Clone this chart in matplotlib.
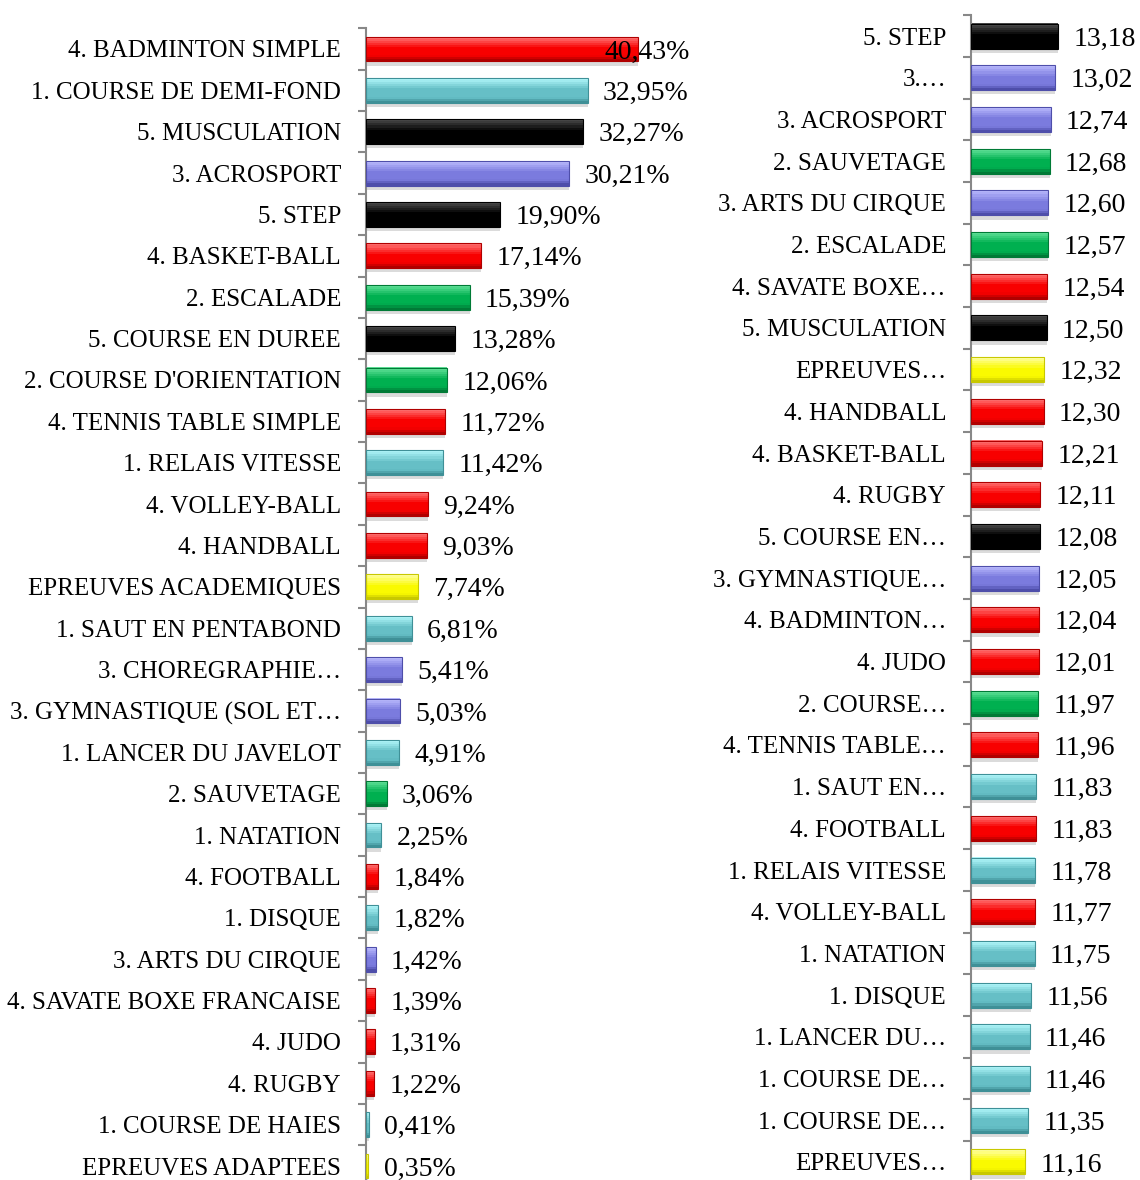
import matplotlib
matplotlib.use("Agg")

import numpy as np
import matplotlib.pyplot as plt
from matplotlib.colors import to_rgb

plt.rcParams['font.family'] = ['Liberation Serif', 'DejaVu Serif']

# panneau de gauche : part des activites (%)
noms_gauche = ["4. BADMINTON SIMPLE", "1. COURSE DE DEMI-FOND", "5. MUSCULATION", "3. ACROSPORT",
               "5. STEP", "4. BASKET-BALL", "2. ESCALADE", "5. COURSE EN DUREE",
               "2. COURSE D'ORIENTATION", "4. TENNIS TABLE SIMPLE", "1. RELAIS VITESSE",
               "4. VOLLEY-BALL", "4. HANDBALL", "EPREUVES ACADEMIQUES", "1. SAUT EN PENTABOND",
               "3. CHOREGRAPHIE…", "3. GYMNASTIQUE (SOL ET…", "1. LANCER DU JAVELOT",
               "2. SAUVETAGE", "1. NATATION", "4. FOOTBALL", "1. DISQUE", "3. ARTS DU CIRQUE",
               "4. SAVATE BOXE FRANCAISE", "4. JUDO", "4. RUGBY", "1. COURSE DE HAIES",
               "EPREUVES ADAPTEES"]
valeurs_gauche = [40.43, 32.95, 32.27, 30.21, 19.90, 17.14, 15.39, 13.28, 12.06, 11.72, 11.42,
                  9.24, 9.03, 7.74, 6.81, 5.41, 5.03, 4.91, 3.06, 2.25, 1.84, 1.82, 1.42,
                  1.39, 1.31, 1.22, 0.41, 0.35]

# panneau de droite : moyennes des notes
noms_droite = ["5. STEP", "3.…", "3. ACROSPORT", "2. SAUVETAGE", "3. ARTS DU CIRQUE",
               "2. ESCALADE", "4. SAVATE BOXE…", "5. MUSCULATION", "EPREUVES…", "4. HANDBALL",
               "4. BASKET-BALL", "4. RUGBY", "5. COURSE EN…", "3. GYMNASTIQUE…",
               "4. BADMINTON…", "4. JUDO", "2. COURSE…", "4. TENNIS TABLE…", "1. SAUT EN…",
               "4. FOOTBALL", "1. RELAIS VITESSE", "4. VOLLEY-BALL", "1. NATATION",
               "1. DISQUE", "1. LANCER DU…", "1. COURSE DE…", "1. COURSE DE…", "EPREUVES…"]
valeurs_droite = [13.18, 13.02, 12.74, 12.68, 12.60, 12.57, 12.54, 12.50, 12.32, 12.30, 12.21,
                  12.11, 12.08, 12.05, 12.04, 12.01, 11.97, 11.96, 11.83, 11.83, 11.78, 11.77,
                  11.75, 11.56, 11.46, 11.46, 11.35, 11.16]

# couleur selon la competence (chiffre en tete du nom) : (principale, claire, foncee)
couleurs = {
    "1": ("#66BFC6", "#B0F6FA", "#3F9097"),
    "2": ("#00B050", "#5EE096", "#007A36"),
    "3": ("#7B7BDE", "#B8B8FC", "#4E4EAA"),
    "4": ("#F80000", "#FF7070", "#B00000"),
    "5": ("#000000", "#4A4A4A", "#000000"),
    "E": ("#FAFA00", "#FFFFA0", "#C8C800"),
}


def melange(a, b, t):
    a, b = np.array(to_rgb(a)), np.array(to_rgb(b))
    return tuple(a + (b - a) * t)


def degrade(c):
    # couleurs des bandes du haut vers le bas
    res = []
    for t in np.linspace(0, 1, 12):
        if t < 0.45:
            res.append(melange(c[1], c[0], t / 0.45))
        elif t < 0.8:
            res.append(to_rgb(c[0]))
        else:
            res.append(melange(c[0], c[2], (t - 0.8) / 0.2))
    return res


def dessiner(ax, noms, valeurs, x0, suffixe, xmax):
    n = len(noms)
    y = list(range(n))
    h = 0.6
    cols = [couleurs[nom[0]] for nom in noms]
    base = [x0] * n
    larg = [v - x0 for v in valeurs]
    # ombre
    ax.barh([i + 0.1 for i in y], larg, left=base, height=h,
            color="#C4C4C4", alpha=0.6, zorder=1)
    # barre en bandes (degrade vertical)
    nb = 12
    hb = h / nb
    for k in range(nb):
        yk = [i - h / 2 + hb * (k + 0.5) for i in y]
        ax.barh(yk, larg, left=base, height=hb * 1.05,
                color=[degrade(c)[k] for c in cols], linewidth=0, zorder=2)
    ax.barh(y, larg, left=base, height=h, color="none",
            edgecolor=[c[2] for c in cols], linewidth=0.8, zorder=3)

    for i, v in enumerate(valeurs):
        txt = f"{v:.2f}".replace(".", ",") + suffixe
        if suffixe and v > xmax - 15:
            # etiquette trop longue : collee au bord droit du graphique
            ax.text(xmax, i, txt, ha="right", va="center_baseline", fontsize=20, zorder=5)
        else:
            ax.annotate(txt, (v, i), xytext=(11, 0), textcoords="offset points",
                        ha="left", va="center_baseline", fontsize=20,
                        annotation_clip=False, zorder=5)

    ax.set_xlim(x0, xmax)
    ax.set_ylim(n - 0.5, -0.5)
    ax.set_yticks(y)
    ax.set_yticklabels(noms, fontsize=18)
    ax.set_yticks([i - 0.5 for i in range(n + 1)], minor=True)
    ax.tick_params(axis="y", which="major", length=0, pad=18)
    ax.tick_params(axis="y", which="minor", length=6, color="#888888", width=1.5)
    ax.set_xticks([])
    for s in ["top", "right", "bottom"]:
        ax.spines[s].set_visible(False)
    ax.spines["left"].set_color("#888888")
    ax.spines["left"].set_linewidth(1.5)


fig = plt.figure(figsize=(11.4, 11.8), dpi=100)
W, H = 1140, 1180

# gauche : axe a x=366, 6,73 px par point
ax1 = fig.add_axes([366 / W, 1 - 1186.7 / H, 324 / W, (1186.7 - 28.3) / H])
dessiner(ax1, noms_gauche, valeurs_gauche, 0, "%", 324 / 6.73)

# droite : axe a x=971, debut vers 7,86
ax2 = fig.add_axes([971 / W, 1 - 1182.8 / H, 110 / W, (1182.8 - 15.2) / H])
dessiner(ax2, noms_droite, valeurs_droite, 7.86, "", 7.86 + 110 / 16.34)

fig.savefig("out.png", dpi=100)
